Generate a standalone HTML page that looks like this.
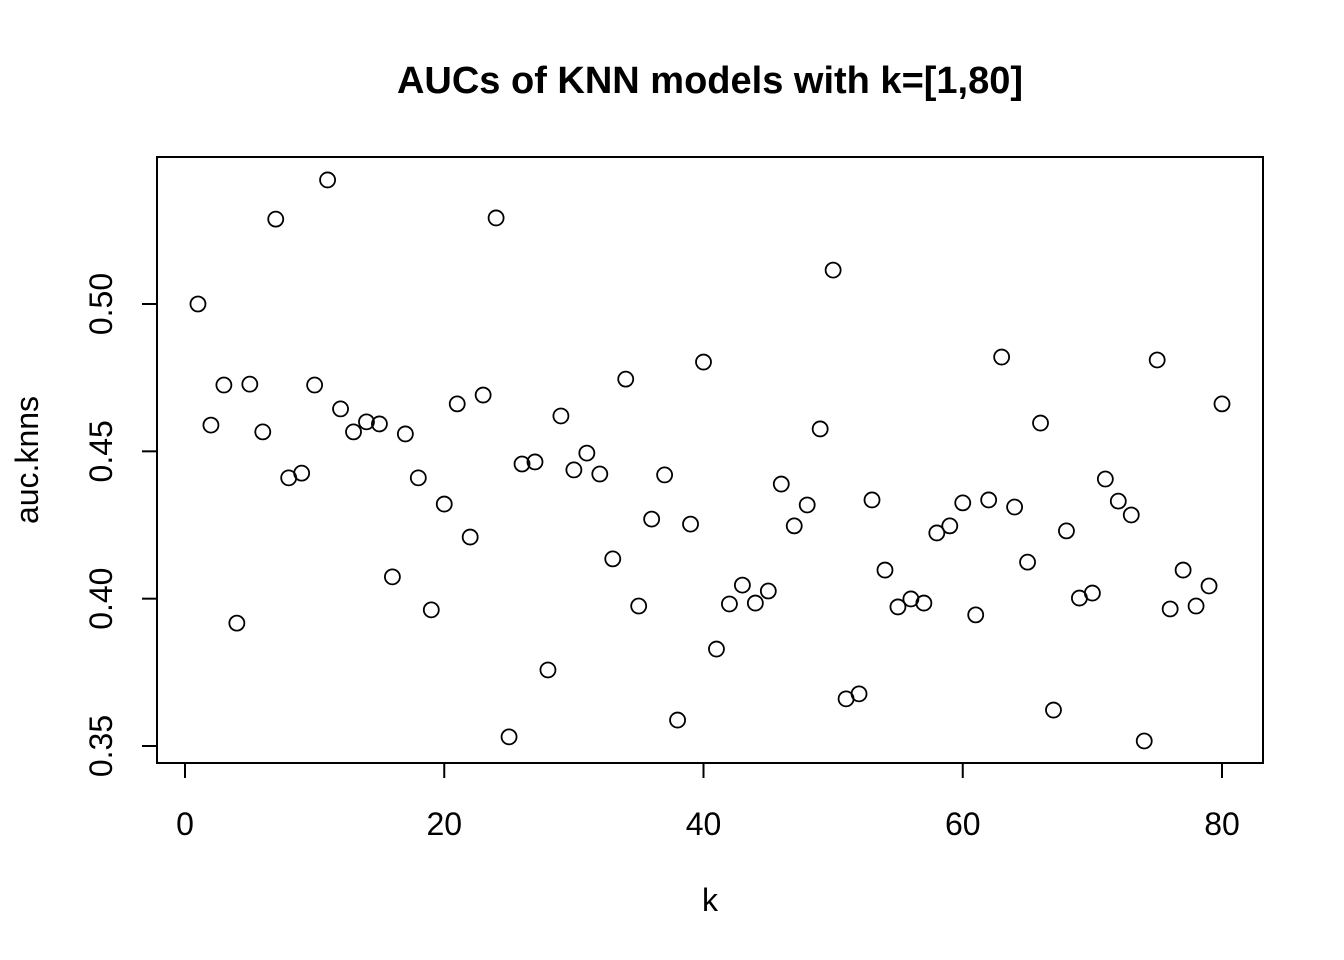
<!DOCTYPE html>
<html><head><meta charset="utf-8"><style>
html,body{margin:0;padding:0;background:#fff;}
svg{display:block;font-family:"Liberation Sans",Arial,sans-serif;}
</style></head><body>
<svg id="chart" width="1344" height="960" viewBox="0 0 1344 960" xmlns="http://www.w3.org/2000/svg">
<text x="710" y="93" text-anchor="middle" font-size="38" font-weight="bold">AUCs of KNN models with k=[1,80]</text>
<rect x="157" y="157" width="1106" height="606" fill="none" stroke="#000" stroke-width="2"/>
<g id="xaxis"></g>
<g id="yaxis"></g>
<g id="points"></g>
<text x="710" y="911" text-anchor="middle" font-size="32">k</text>
<text transform="translate(38,460) rotate(-90)" text-anchor="middle" font-size="32">auc.knns</text>
</svg>
<script>
const kValues = [];
for (let i = 1; i <= 80; i++) kValues.push(i);
const aucValues = [0.500,0.4589,0.4725,0.3917,0.4728,0.4566,0.5288,0.4410,0.4426,0.4725,
0.5421,0.4644,0.4566,0.4600,0.4593,0.4074,0.4559,0.4410,0.3962,0.4321,
0.4661,0.4209,0.4691,0.5292,0.3531,0.4457,0.4464,0.3758,0.4620,0.4437,
0.4494,0.4423,0.4135,0.4745,0.3975,0.4270,0.4420,0.3588,0.4253,0.4803,
0.3829,0.3982,0.4046,0.3985,0.4026,0.4389,0.4247,0.4318,0.4576,0.5115,
0.3660,0.3677,0.4335,0.4097,0.3972,0.3999,0.3985,0.4223,0.4247,0.4325,
0.3945,0.4335,0.4820,0.4311,0.4124,0.4596,0.3622,0.4230,0.4002,0.4019,
0.4406,0.4331,0.4284,0.3517,0.4810,0.3965,0.4097,0.3975,0.4043,0.4661];
const xTicks = [0,20,40,60,80];
const yTicks = [0.35,0.40,0.45,0.50];
const yTickLabels = ["0.35","0.40","0.45","0.50"];

const NS = "http://www.w3.org/2000/svg";
function xs(v){ return 185 + v * (1037/80); }
function ys(v){ return 304 + (0.50 - v) * (442/0.15); }
function mk(tag, attrs, parent){ const e=document.createElementNS(NS,tag); for(const k in attrs) e.setAttribute(k,attrs[k]); parent.appendChild(e); return e; }

const xa = document.getElementById('xaxis');
mk('line',{x1:xs(xTicks[0]),x2:xs(xTicks[xTicks.length-1]),y1:763,y2:763,stroke:'#000','stroke-width':2},xa);
xTicks.forEach(t=>{
  const l = mk('line',{x1:xs(t),x2:xs(t),y1:763,y2:778,stroke:'#000','stroke-width':2},xa);
  
  
  const tx = mk('text',{x:xs(t),y:835,'text-anchor':'middle','font-size':32},xa);
  
  
  tx.textContent = t;
});
const ya = document.getElementById('yaxis');
mk('line',{x1:157,x2:157,y1:ys(yTicks[0]),y2:ys(yTicks[yTicks.length-1]),stroke:'#000','stroke-width':2},ya);
yTicks.forEach((t,i)=>{
  const l = mk('line',{x1:142,x2:157,y1:ys(t),y2:ys(t),stroke:'#000','stroke-width':2},ya);
  
  
  const tx = mk('text',{transform:`translate(112,${ys(t)}) rotate(-90)`,'text-anchor':'middle','font-size':32},ya);
  
  
  tx.textContent = yTickLabels[i];
});
const pg = document.getElementById('points');
aucValues.forEach((v,i)=>{
  const c = mk('circle',{cx:xs(kValues[i]),cy:ys(v),r:7.5,fill:'none',stroke:'#000','stroke-width':1.8},pg);
  
  
});
</script>
</body></html>
